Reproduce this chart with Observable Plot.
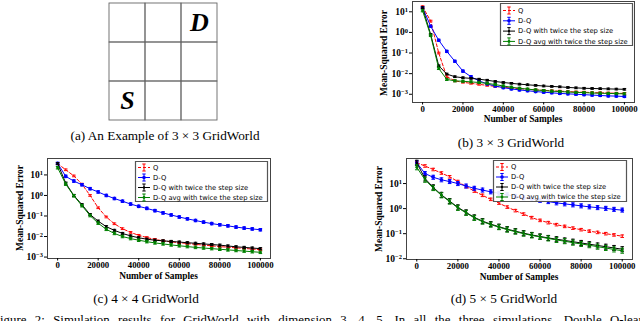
<!DOCTYPE html>
<html><head><meta charset="utf-8">
<script src="https://cdn.jsdelivr.net/npm/d3@7"></script>
<script src="https://cdn.jsdelivr.net/npm/@observablehq/plot@0.6"></script>
<style>
body{margin:0;background:#fff;}
#fig{position:relative;width:640px;height:321px;overflow:hidden;background:#fff;font-family:"Liberation Serif",serif;color:#000;}
#fig svg{position:absolute;overflow:visible;}
.t{position:absolute;white-space:nowrap;line-height:1;transform:translate(-50%,-50%);}
</style></head>
<body><div id="fig"></div>
<script>
// ---------- data ----------
const seriesNames = ["Q", "D-Q", "D-Q with twice the step size", "D-Q avg with twice the step size"];
const seriesColors = ["#ff0000", "#0000ff", "#000000", "#008000"];
const xSamples = [0,4000,8000,12000,16000,20000,24000,28000,32000,36000,40000,44000,48000,52000,56000,60000,64000,68000,72000,76000,80000,84000,88000,92000,96000,100000];
const xTickValues = [0,20000,40000,60000,80000,100000];

// log10(Mean-Squared Error)
// (b) 3x3
const b_Q   = [1.25,0.55,-1.0,-2.15,-2.35,-2.42,-2.47,-2.52,-2.57,-2.62,-2.66,-2.7,-2.73,-2.76,-2.79,-2.81,-2.83,-2.85,-2.87,-2.89,-2.9,-2.92,-2.93,-2.94,-2.95,-2.96];
const b_DQ  = [1.2,0.3,-0.38,-0.92,-1.4,-1.88,-2.15,-2.35,-2.5,-2.6,-2.68,-2.74,-2.79,-2.83,-2.87,-2.9,-2.93,-2.96,-2.98,-3.0,-3.02,-3.04,-3.06,-3.08,-3.09,-3.11];
const b_DQ2 = [1.2,-0.1,-1.62,-2.02,-2.15,-2.2,-2.23,-2.27,-2.32,-2.38,-2.43,-2.47,-2.51,-2.54,-2.57,-2.6,-2.62,-2.64,-2.67,-2.69,-2.71,-2.72,-2.73,-2.74,-2.75,-2.76];
const b_avg = [1.05,-0.15,-1.75,-2.28,-2.35,-2.37,-2.4,-2.43,-2.47,-2.53,-2.6,-2.66,-2.71,-2.75,-2.79,-2.82,-2.85,-2.87,-2.89,-2.91,-2.92,-2.94,-2.95,-2.96,-2.97,-2.98];
// (c) 4x4
const c_Q   = [1.55,1.25,0.95,0.55,0.0,-0.6,-1.05,-1.38,-1.62,-1.8,-1.94,-2.05,-2.14,-2.21,-2.26,-2.3,-2.34,-2.38,-2.42,-2.45,-2.49,-2.52,-2.55,-2.58,-2.61,-2.64];
const c_DQ  = [1.56,0.93,0.7,0.52,0.33,0.17,0.0,-0.15,-0.28,-0.42,-0.53,-0.63,-0.74,-0.85,-0.95,-1.05,-1.14,-1.22,-1.3,-1.37,-1.43,-1.48,-1.54,-1.59,-1.63,-1.67];
const c_DQ2 = [1.55,0.6,0.0,-0.45,-0.93,-1.25,-1.52,-1.7,-1.85,-1.97,-2.06,-2.13,-2.18,-2.21,-2.24,-2.27,-2.3,-2.33,-2.36,-2.39,-2.42,-2.46,-2.5,-2.53,-2.56,-2.59];
const c_avg = [1.35,0.55,-0.02,-0.5,-0.98,-1.35,-1.65,-1.85,-2.0,-2.1,-2.18,-2.25,-2.31,-2.36,-2.41,-2.45,-2.49,-2.53,-2.56,-2.59,-2.62,-2.65,-2.68,-2.71,-2.74,-2.77];
// (d) 5x5
const d_Q   = [1.83,1.7,1.56,1.42,1.27,1.08,0.88,0.7,0.53,0.37,0.22,0.06,-0.08,-0.22,-0.36,-0.47,-0.56,-0.64,-0.71,-0.78,-0.84,-0.9,-0.95,-1.0,-1.05,-1.1];
const d_DQ  = [1.83,1.4,1.25,1.15,1.08,1.0,0.9,0.81,0.74,0.67,0.61,0.55,0.49,0.43,0.38,0.33,0.28,0.23,0.19,0.15,0.11,0.07,0.04,0.01,-0.03,-0.06];
const d_DQ2 = [1.83,1.2,0.85,0.55,0.3,0.05,-0.15,-0.35,-0.5,-0.62,-0.72,-0.82,-0.9,-0.98,-1.05,-1.11,-1.17,-1.22,-1.27,-1.32,-1.37,-1.42,-1.47,-1.52,-1.57,-1.62];
const d_avg = [1.65,1.15,0.82,0.53,0.28,0.03,-0.17,-0.37,-0.52,-0.64,-0.74,-0.84,-0.92,-1.0,-1.07,-1.13,-1.19,-1.25,-1.3,-1.36,-1.41,-1.46,-1.52,-1.57,-1.63,-1.68];
// error-bar half widths (log10 units) per series
const b_err = [0.04,0.05,0.04,0.05];
const c_err = [0.04,0.06,0.05,0.06];
const d_err = [0.05,0.08,0.1,0.1];
const b_yTickExps = [1,0,-1,-2,-3];
const c_yTickExps = [1,0,-1,-2,-3];
const d_yTickExps = [1,0,-1,-2];

// grid world (a)
const gridCols = [0,1,2];
const gridRows = [0,1,2];
const gridLetters = [{label:"D", col:2, row:2}, {label:"S", col:0, row:0}];

const captions = {
  a: "(a) An Example of 3 \u00d7 3 GridWorld",
  b: "(b) 3 \u00d7 3 GridWorld",
  c: "(c) 4 \u00d7 4 GridWorld",
  d: "(d) 5 \u00d7 5 GridWorld",
  fig: "Figure 2: Simulation results for GridWorld with dimension 3, 4, 5. In all the three simulations, Double Q-learning"
};
const xAxisLabel = "Number of Samples";
const yAxisLabel = "Mean-Squared Error";

// ---------- layout ----------
const fig = document.getElementById("fig");
const NS = "http://www.w3.org/2000/svg";
const ctx = document.createElement("canvas").getContext("2d");
function measure(text, font) { ctx.font = font; return ctx.measureText(text).width; }
function fitSize(text, font, targetW) { return 100 * targetW / measure(text, font.replace("SIZE", "100px")); }
const capSize = fitSize(captions.a, "SIZE 'Liberation Serif'", 190);
const axlSize = fitSize(xAxisLabel, "bold SIZE 'Liberation Serif'", 79);
const ylabSize = fitSize(yAxisLabel, "bold SIZE 'Liberation Serif'", 86);
const legSize = fitSize(seriesNames[3], "SIZE 'DejaVu Sans'", 110);

function addText(txt, x, y, style, extra) {
  const d = document.createElement("div");
  d.className = "t";
  d.textContent = txt;
  d.style.left = x + "px"; d.style.top = y + "px";
  Object.assign(d.style, style);
  if (extra) Object.assign(d.style, extra);
  fig.appendChild(d);
  return d;
}
const capStyle = {fontSize: capSize + "px"};

// panel (a)
const cells = [];
for (const c of gridCols) for (const r of gridRows) cells.push({col:c, row:r});
const gridSvg = Plot.plot({
  width: 112, height: 119,
  margin: 1,
  x: {type:"band", domain: gridCols, padding: 0, axis: null},
  y: {type:"band", domain: [...gridRows].reverse(), padding: 0, axis: null},
  style: {background: "transparent", fontFamily: "Liberation Serif"},
  marks: [
    Plot.cell(cells, {x:"col", y:"row", fill:"none", stroke:"#666", strokeWidth:0.9}),
    Plot.text(gridLetters, {x:"col", y:"row", text:"label", fontSize:26, fontWeight:"bold", fontStyle:"italic", fill:"#000"})
  ]
});
gridSvg.style.left = "107px"; gridSvg.style.top = "2px";
fig.appendChild(gridSvg);
addText(captions.a, 165, 136, capStyle);

const capSym = {draw(c, size){ const w = Math.sqrt(size/Math.PI); c.moveTo(-w,0); c.lineTo(w,0); }};
const markerR = [0, 1.8, 1.2, 1.4];

const panels = [
  {series:[b_Q,b_DQ,b_DQ2,b_avg], err:b_err, ticks:b_yTickExps, yDom:[-3.4,1.5],
   left:360, top:0, width:280, height:125, mL:52, mR:6, mT:1, mB:23,
   cap:captions.b, capX:511, capY:143, xlabY:120, ylabX:385, ylabY:53,
   leg:{left:500, top:3, width:133, height:43, r0:7.5, dr:10.3}},
  {series:[c_Q,c_DQ,c_DQ2,c_avg], err:c_err, ticks:c_yTickExps, yDom:[-3.07,1.8],
   left:0, top:155, width:280, height:125, mL:47, mR:10, mT:3, mB:22,
   cap:captions.c, capX:146, capY:299, xlabY:277, ylabX:21, ylabY:208,
   leg:{left:135, top:161, width:133, height:41, r0:6.5, dr:10}},
  {series:[d_Q,d_DQ,d_DQ2,d_avg], err:d_err, ticks:d_yTickExps, yDom:[-2.03,2.0],
   left:350, top:155, width:290, height:125, mL:56, mR:8, mT:3, mB:21,
   cap:captions.d, capX:504, capY:299, xlabY:278, ylabX:380, ylabY:209,
   leg:{left:493, top:160, width:134, height:42, r0:7, dr:10}}
];

function el(tag, attrs, parent) {
  const e = document.createElementNS(NS, tag);
  for (const k in attrs) e.setAttribute(k, attrs[k]);
  if (parent) parent.appendChild(e);
  return e;
}

for (const p of panels) {
  const marks = [];
  p.series.forEach((vals, i) => {
    const e = p.err[i];
    const data = xSamples.map((x, j) => ({x, y: 10 ** vals[j], lo: 10 ** (vals[j] - e), hi: 10 ** (vals[j] + e)}));
    const lineOpts = {x:"x", y:"y", stroke: seriesColors[i], strokeWidth: 1};
    if (i === 0) lineOpts.strokeDasharray = "3,2";
    marks.push(Plot.line(data, lineOpts));
    marks.push(Plot.ruleX(data, {x:"x", y1:"lo", y2:"hi", stroke: seriesColors[i], strokeWidth: 1}));
    marks.push(Plot.dot(data, {x:"x", y:"lo", symbol: capSym, r: 1.8, stroke: seriesColors[i], strokeWidth: 1}));
    marks.push(Plot.dot(data, {x:"x", y:"hi", symbol: capSym, r: 1.8, stroke: seriesColors[i], strokeWidth: 1}));
    if (markerR[i] > 0) marks.push(Plot.dot(data, {x:"x", y:"y", r: markerR[i], fill: seriesColors[i], stroke: "none"}));
  });
  marks.push(Plot.frame({stroke:"#444", strokeWidth: 1}));
  marks.push(Plot.axisX({ticks: xTickValues, tickFormat: d => String(d), tickSize: 2.5, tickPadding: 1, label: null, fontSize: 8.8, fontWeight: "bold"}));
  marks.push(Plot.axisY({ticks: p.ticks.map(e => 10 ** e), tickFormat: d => "10^" + Math.round(Math.log10(d)), tickSize: 3, tickPadding: 1.5, label: null, fontSize: 9.5, fontWeight: "bold"}));
  const svg = Plot.plot({
    width: p.width, height: p.height,
    marginLeft: p.mL, marginRight: p.mR, marginTop: p.mT, marginBottom: p.mB,
    x: {domain: [-5000, 105000]},
    y: {type: "log", domain: [10 ** p.yDom[0], 10 ** p.yDom[1]]},
    style: {background: "transparent", fontFamily: "Liberation Serif", color: "#000"},
    marks
  });
  svg.querySelectorAll('g[aria-label="y-axis tick label"] text').forEach(t => {
    const s = t.textContent;
    const ex = s.split("^")[1].replace("-", "\u2212");
    t.textContent = "";
    const a = el("tspan", {}, t); a.textContent = "10";
    const b = el("tspan", {dy: "-0.45em", "font-size": "0.68em"}, t); b.textContent = ex;
  });

  // legend drawn inside the plot's own svg
  const L = p.leg;
  const lg = el("g", {transform: `translate(${L.left - p.left},${L.top - p.top})`, "aria-label": "legend"}, svg);
  el("path", {d: `M0.5,0.5H${L.width - 0.5}V${L.height - 0.5}H0.5Z`, fill: "#ffffff", "fill-opacity": 0.9, stroke: "#555555", "stroke-width": 1.2}, lg);
  seriesNames.forEach((name, i) => {
    const cy = L.r0 + i * L.dr;
    const c = seriesColors[i];
    const g = el("g", {stroke: c, "stroke-width": 1, fill: "none"}, lg);
    const ln = el("line", {x1: 3, x2: 15, y1: cy, y2: cy}, g);
    if (i === 0) ln.setAttribute("stroke-dasharray", "3,2");
    el("line", {x1: 9, x2: 9, y1: cy - 3.5, y2: cy + 3.5}, g);
    el("line", {x1: 7.3, x2: 10.7, y1: cy - 3.5, y2: cy - 3.5}, g);
    el("line", {x1: 7.3, x2: 10.7, y1: cy + 3.5, y2: cy + 3.5}, g);
    if (markerR[i] > 0) el("circle", {cx: 9, cy: cy, r: markerR[i], fill: c, stroke: "none"}, lg);
    const tx = el("text", {x: 18, y: cy, dy: "0.35em", "text-anchor": "start", "font-family": "DejaVu Sans", "font-size": legSize, "font-weight": "normal", fill: "#000", stroke: "none"}, lg);
    tx.textContent = name;
  });

  svg.style.left = p.left + "px"; svg.style.top = p.top + "px";
  fig.appendChild(svg);

  const frameCx = p.left + p.mL + (p.width - p.mL - p.mR) / 2;
  addText(xAxisLabel, frameCx, p.xlabY, {fontWeight: "bold", fontSize: axlSize + "px"});
  addText(yAxisLabel, p.ylabX, p.ylabY, {fontWeight: "bold", fontSize: ylabSize + "px"}, {transform: "translate(-50%,-50%) rotate(-90deg)"});
  addText(p.cap, p.capX, p.capY, capStyle);
}

// cut-off, justified figure caption at the bottom
const figFont = capSize * 0.97;
const fnt = figFont + "px 'Liberation Serif'";
const leftX = -measure("F", fnt);
const upToQ = "Figure 2: Simulation results for GridWorld with dimension 3, 4, 5. In all the three simulations, Double ";
const nSp = upToQ.split(" ").length - 1;
let wordSp = (610 - leftX - measure(upToQ, fnt)) / nSp;
wordSp = Math.max(-1, Math.min(6, wordSp));
const fc = document.createElement("div");
fc.textContent = captions.fig;
Object.assign(fc.style, {position: "absolute", left: leftX + "px", top: (325 - 0.8375 * figFont) + "px", fontSize: figFont + "px", wordSpacing: wordSp + "px", whiteSpace: "nowrap", lineHeight: "1"});
fig.appendChild(fc);
</script></body></html>
